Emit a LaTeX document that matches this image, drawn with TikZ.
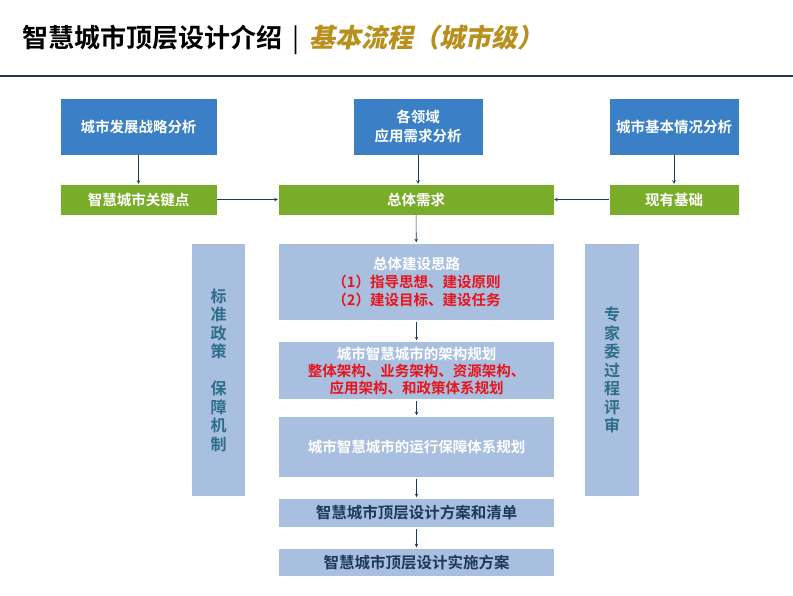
\documentclass[tikz,border=0pt]{standalone}
\usepackage{fontspec}
\setmainfont{Noto Sans CJK SC}[BoldFont={Noto Sans CJK SC Bold}]
\newfontfamily\slantcjk{Noto Sans CJK SC Bold}[FakeSlant=0.2]
\definecolor{topblue}{HTML}{3B80C6}
\definecolor{keygreen}{HTML}{78AC29}
\definecolor{paleblue}{HTML}{A9BFE0}
\definecolor{navy}{HTML}{1B3A5C}
\definecolor{gold}{HTML}{B8901E}
\definecolor{redtext}{HTML}{E8141B}
\definecolor{tealtext}{HTML}{2E6E8A}
\begin{document}
\begin{tikzpicture}[x=1pt, y=-1pt, >=stealth,
	topbox/.style={fill=topblue, draw=white, text=white, inner sep=0pt, align=center,
		font=\bfseries\fontsize{14.5}{19}\selectfont, minimum height=57pt},
	greenbox/.style={fill=keygreen, draw=white, text=white, inner sep=0pt,
		font=\bfseries\fontsize{14.5}{19}\selectfont, minimum height=31pt},
	stepbox/.style={fill=paleblue, draw=white, line width=1.5pt, text=white, inner sep=0pt,
		align=center, minimum width=277pt, font=\bfseries\fontsize{14.5}{19}\selectfont},
	sidebox/.style={fill=paleblue, draw=white, line width=1.5pt, text=tealtext, inner sep=0pt,
		align=center, minimum height=254pt, font=\bfseries\fontsize{16}{18.5}\selectfont},
	arrow/.style={navy, semithick, ->}]
	\useasboundingbox (0, 0) rectangle (793, 595);

	% title
	\node[anchor=west, inner sep=0pt, font=\bfseries\fontsize{26}{30}\selectfont] (title) at (22, 39.5)
		{智慧城市顶层设计介绍\hspace{10pt}{\mdseries|}\hspace{10pt}{\slantcjk\color{gold}基本流程（城市级）}};
	\draw[navy, line width=2pt] (0, 75.5) -- (793, 75.5);

	% analysis
	\node[topbox, minimum width=157pt] (strat) at (138.5, 126.5) {城市发展战略分析};
	\node[topbox, minimum width=130pt] (field) at (418, 126.5) {各领域\\应用需求分析};
	\node[topbox, minimum width=130pt] (base) at (674, 126.5) {城市基本情况分析};

	\node[greenbox, minimum width=157pt] (key) at (138.5, 199.5) {智慧城市关键点};
	\node[greenbox, minimum width=276pt] (need) at (416, 199.5) {总体需求};
	\node[greenbox, minimum width=130pt] (exist) at (674, 199.5) {现有基础};

	\draw[arrow] (strat) -- (key);
	\draw[arrow] (field.south) -- (field.south |- need.north);
	\draw[arrow] (base) -- (exist);
	\draw[arrow] (key) -- (need);
	\draw[arrow] (exist) -- (need);

	% steps
	\node[stepbox, minimum height=78pt] (idea) at (416.5, 282)
		{总体建设思路\\[-1pt]{\color{redtext}（1）指导思想、建设原则}\\[-1pt]{\color{redtext}（2）建设目标、建设任务}};
	\node[stepbox, minimum height=59pt] (arch) at (416.5, 370.5)
		{城市智慧城市的架构规划\\[-2pt]{\color{redtext}整体架构、业务架构、资源架构、}\\[-2pt]{\color{redtext}应用架构、和政策体系规划}};
	\node[stepbox, minimum height=62pt] (run) at (416.5, 447) {城市智慧城市的运行保障体系规划};
	\node[stepbox, minimum height=30pt, text=navy, font=\bfseries\fontsize{15.5}{19}\selectfont] (plan) at (416.5, 513)
		{智慧城市顶层设计方案和清单};
	\node[stepbox, minimum height=29pt, text=navy, font=\bfseries\fontsize{15.5}{19}\selectfont] (impl) at (416.5, 562.5)
		{智慧城市顶层设计实施方案};

	\draw[arrow] (need) -- (idea);
	\draw[arrow] (idea) -- (arch);
	\draw[arrow] (arch) -- (run);
	\draw[arrow] (run) -- (plan);
	\draw[arrow] (plan) -- (impl);

	% side bars
	\node[sidebox, minimum width=55pt] (policy) at (218.5, 370)
		{标\\准\\政\\策\\[18.5pt]保\\障\\机\\制};
	\node[sidebox, minimum width=56pt] (expert) at (612, 370)
		{专\\家\\委\\过\\程\\评\\审};
\end{tikzpicture}
\end{document}
